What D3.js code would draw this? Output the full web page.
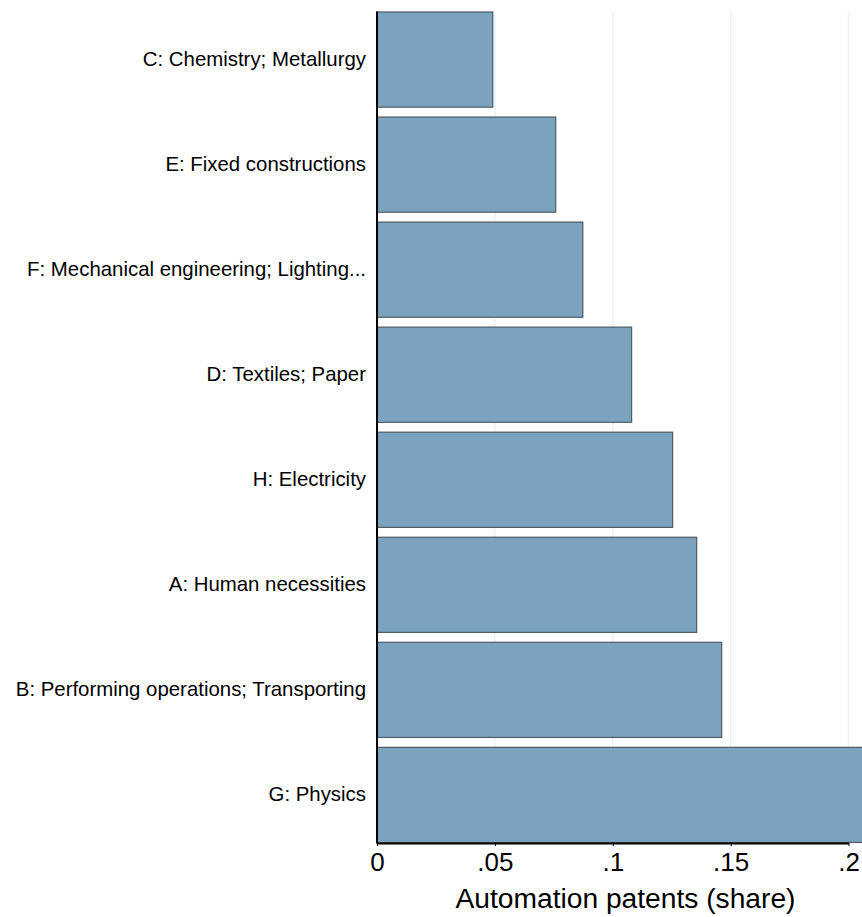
<!DOCTYPE html>
<html><head><meta charset="utf-8">
<script src="https://cdn.jsdelivr.net/npm/d3@7"></script>
<style>body{margin:0;background:#fff}svg{display:block}text{font-family:"Liberation Sans",Arial,sans-serif}</style>
</head><body>
<script>
const categories = ["C: Chemistry; Metallurgy","E: Fixed constructions","F: Mechanical engineering; Lighting...","D: Textiles; Paper","H: Electricity","A: Human necessities","B: Performing operations; Transporting","G: Physics"];
const values = [0.0491,0.0758,0.0873,0.1080,0.1254,0.1356,0.1462,0.215];
const tickValues = [0,0.05,0.1,0.15,0.2];
const tickLabels = ["0",".05",".1",".15",".2"];
const xTitle = "Automation patents (share)";

const W=862,H=917;
const svg=d3.select("body").append("svg").attr("width",W).attr("height",H);
const x=d3.scaleLinear().domain([0,0.2]).range([377,848.5]);
const y=d3.scaleBand().domain(categories).range([12,842.5]).paddingInner(0.094).paddingOuter(0);

// gridlines
svg.append("g").selectAll("line").data(tickValues.slice(1)).join("line")
  .attr("x1",d=>x(d)).attr("x2",d=>x(d)).attr("y1",12).attr("y2",842)
  .attr("stroke","#eaf2f3").attr("stroke-width",1.5);

// bars
svg.append("g").selectAll("rect").data(categories).join("rect")
  .attr("x",x(0)).attr("y",d=>y(d))
  .attr("width",(d,i)=>x(values[i])-x(0)).attr("height",y.bandwidth())
  .attr("fill","#7ba2bf").attr("stroke","#4f5a63").attr("stroke-width",1.2);

// y axis
const ya=svg.append("g").attr("transform",`translate(${x(0)},0)`)
  .call(d3.axisLeft(y).tickSize(0).tickPadding(11));
ya.select(".domain").remove();
ya.selectAll("text").attr("font-size",20.4).attr("fill","#000").attr("font-family","Liberation Sans, Arial, sans-serif");
svg.append("line").attr("x1",x(0)).attr("x2",x(0)).attr("y1",11.5).attr("y2",843.5).attr("stroke","#000").attr("stroke-width",2);

// x axis
const xa=svg.append("g").attr("transform","translate(0,843)")
  .call(d3.axisBottom(x).tickValues(tickValues).tickFormat((d,i)=>tickLabels[i]).tickSize(3).tickSizeOuter(0).tickPadding(6.5));
xa.select(".domain").attr("stroke","#000").attr("stroke-width",2.2);
xa.selectAll(".tick line").attr("stroke","#000");
xa.selectAll("text").attr("font-size",26).attr("fill","#000").attr("font-family","Liberation Sans, Arial, sans-serif");

svg.append("text").attr("x",625.5).attr("y",908).attr("text-anchor","middle")
  .attr("font-size",28.2).attr("fill","#000").text(xTitle);
</script>
</body></html>
